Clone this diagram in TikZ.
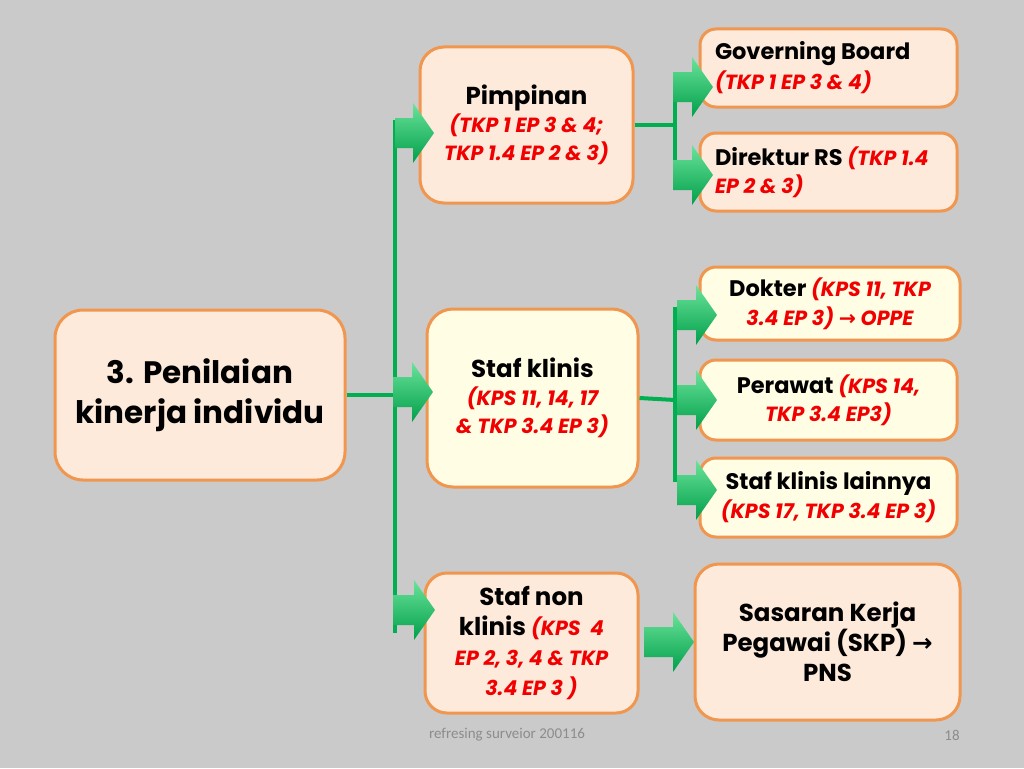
\documentclass[tikz,border=0pt]{standalone}
\usepackage{fontspec}
\setmainfont{Poppins}
\newfontfamily\arrowfont{DejaVu Sans}
\newfontfamily\footfont{Carlito}
\usetikzlibrary{calc}
\definecolor{bg}{HTML}{CACACA}
\definecolor{peach}{HTML}{FDEADA}
\definecolor{ylw}{HTML}{FFFDE4}
\definecolor{bord}{HTML}{F0964F}
\definecolor{lgreen}{HTML}{00B050}
\definecolor{gtop}{HTML}{6BE39A}
\definecolor{gbot}{HTML}{009F4A}
\definecolor{tred}{HTML}{F00000}
\definecolor{footgray}{HTML}{8C8C8C}
\newcommand\rd[1]{{\color{tred}\fontsize{20.5}{27}\selectfont\bfseries\itshape #1}}
\newcommand\garrow[2]{\shade[top color=gtop,bottom color=gbot] ($(#1)+(-#2,-15)$) -- ($(#1)+(-21,-15)$) -- ($(#1)+(-21,-30)$) -- (#1) -- ($(#1)+(-21,30)$) -- ($(#1)+(-21,15)$) -- ($(#1)+(-#2,15)$) -- cycle;}
\tikzset{
  box/.style={draw=bord, line width=3pt, rounded corners=16pt, inner sep=0pt, align=center, text=black},
  peachbox/.style={box, fill=peach},
  ylwbox/.style={box, fill=ylw},
  gline/.style={draw=lgreen, line width=4pt},
  bk22/.style={font=\fontsize{22.5}{28}\selectfont\bfseries},
  bk24/.style={font=\fontsize{24.5}{28}\selectfont\bfseries},
}
\begin{document}
\begin{tikzpicture}[x=1pt,y=-1pt]
\fill[bg] (0,0) rectangle (1024,768);
\useasboundingbox (0,0) rectangle (1024,768);
% boxes
\node[peachbox, rounded corners=28pt, minimum width=290pt, minimum height=170pt, font=\fontsize{31}{40}\selectfont\bfseries] (main) at (200,395) {3. Penilaian\\kinerja individu};
\node[peachbox, rounded corners=24pt, minimum width=213pt, minimum height=156pt, bk24] (pim) at (526.5,125) {Pimpinan\\\rd{(TKP 1 EP 3 \& 4;}\\\rd{TKP 1.4 EP 2 \& 3)}};
\node[peachbox, minimum width=257pt, minimum height=78pt, text width=227pt, align=flush left, font=\fontsize{22.5}{30}\selectfont\bfseries] (gov) at (828.5,68) {Governing Board\\\rd{(TKP 1 EP 3 \& 4)}};
\node[peachbox, minimum width=257pt, minimum height=78pt, text width=227pt, align=flush left, bk22] (dir) at (828.5,172) {Direktur RS \rd{(TKP 1.4}\\\rd{EP 2 \& 3)}};
\node[ylwbox, minimum width=260pt, minimum height=73pt, font=\fontsize{22.5}{29}\selectfont\bfseries] (dok) at (830,303.5) {Dokter \rd{(KPS 11, TKP}\\\rd{3.4 EP 3) {\arrowfont →} OPPE}};
\node[ylwbox, rounded corners=26pt, minimum width=211pt, minimum height=178pt, bk24] (staf) at (532.5,398) {Staf klinis\\\rd{(KPS 11, 14, 17}\\\rd{\& TKP 3.4 EP 3)}};
\node[ylwbox, minimum width=257pt, minimum height=80pt, bk22] (per) at (828.5,400) {Perawat \rd{(KPS 14,}\\\rd{TKP 3.4 EP3)}};
\node[ylwbox, minimum width=257pt, minimum height=79pt, font=\fontsize{22.5}{29}\selectfont\bfseries] (lain) at (828.5,497.5) {Staf klinis lainnya\\\rd{(KPS 17, TKP 3.4 EP 3)}};
\node[peachbox, rounded corners=22pt, minimum width=213pt, minimum height=140pt, font=\fontsize{24.5}{30}\selectfont\bfseries] (non) at (531.5,643) {Staf non\\klinis \rd{(KPS\ \ 4}\\\rd{EP 2, 3, 4 \& TKP}\\\rd{3.4 EP 3 )}};
\node[peachbox, rounded corners=24pt, minimum width=265pt, minimum height=156pt, font=\fontsize{24.5}{30}\selectfont\bfseries] (sas) at (827.5,642) {Sasaran Kerja\\Pegawai (SKP) {\arrowfont →}\\PNS};
% connector coordinates
\coordinate (tk1) at (395,120);
\coordinate (tk2) at (395,633);
\coordinate (pb) at (675,125);
\coordinate (pbt) at (675,100);
\coordinate (pbb) at (675,180);
\coordinate (sb) at (675,400);
\coordinate (sbt) at (675,307);
\coordinate (sbb) at (675,482);
\draw[gline] (main.east) -- (main.east -| tk1);
\draw[gline] (tk1) -- (tk2);
\draw[gline] (pim.east) -- (pb);
\draw[gline] (pbt) -- (pbb);
\draw[gline] (staf.east) -- (sb);
\draw[gline] (sbt) -- (sbb);
% arrow tips
\coordinate (apim) at (434,133);
\coordinate (astaf) at (433,392);
\coordinate (anon) at (435,610);
\coordinate (agov) at (713,87);
\coordinate (adir) at (713,175);
\coordinate (adok) at (717,315);
\coordinate (aper) at (717,400);
\coordinate (alain) at (717,490);
\coordinate (asas) at (694,642);
\garrow{apim}{39}
\garrow{astaf}{40}
\garrow{anon}{42}
\garrow{agov}{40}
\garrow{adir}{40}
\garrow{adok}{40}
\garrow{aper}{40}
\garrow{alain}{40}
\garrow{asas}{50}
% footer
\node[font=\footfont\fontsize{15}{17}\selectfont, text=footgray] (foot) at (507,735) {refresing surveior 200116};
\node[font=\footfont\fontsize{15}{17}\selectfont, text=footgray] (pg) at (952,735) {18};
\end{tikzpicture}
\end{document}
